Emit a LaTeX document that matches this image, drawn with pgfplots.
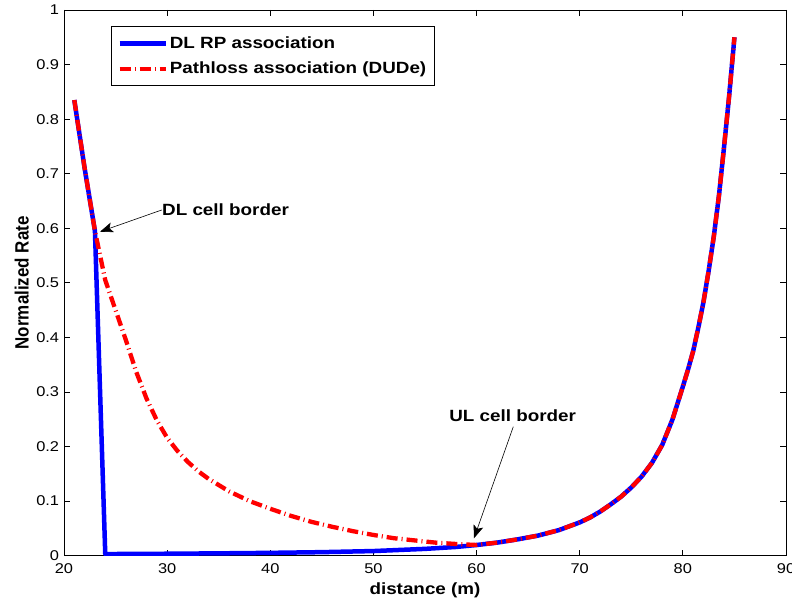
\documentclass[border=0pt]{standalone}
\usepackage{fontspec}
\setmainfont{Liberation Sans}[FakeStretch=1.16]
\usepackage{graphicx}
\usepackage{pgfplots}
\pgfplotsset{compat=1.18}
\usetikzlibrary{arrows.meta}

\pgfplotstableread{
x y
21 0.835
22 0.71
23 0.595
24 0.003
26 0.0032
30 0.0036
35 0.0043
40 0.0052
45 0.0065
50 0.0085
55 0.0125
58 0.016
60 0.0196
62 0.024
64 0.030
66 0.037
68 0.047
70 0.061
71 0.070
72 0.081
73 0.094
74 0.108
75 0.125
76 0.145
77 0.170
78 0.203
79 0.250
80 0.310
80.5 0.341
81 0.375
81.5 0.418
82 0.465
82.5 0.522
83 0.585
83.5 0.660
84 0.750
84.5 0.845
85 0.95
}\dlrp

\pgfplotstableread{
x y
21 0.835
22 0.71
23 0.595
24 0.505
25 0.45
26 0.395
27 0.337
28 0.288
29 0.248
30 0.216
31 0.192
32 0.172
33 0.155
34 0.141
36 0.118
38 0.100
40 0.086
42 0.073
44 0.062
46 0.053
48 0.045
50 0.038
52 0.032
54 0.028
56 0.024
58 0.0215
60 0.0196
62 0.024
64 0.030
66 0.037
68 0.047
70 0.061
71 0.070
72 0.081
73 0.094
74 0.108
75 0.125
76 0.145
77 0.170
78 0.203
79 0.250
80 0.310
80.5 0.341
81 0.375
81.5 0.418
82 0.465
82.5 0.522
83 0.585
83.5 0.660
84 0.750
84.5 0.845
85 0.95
}\pathloss

\begin{document}
\begin{tikzpicture}
\useasboundingbox (0,0) rectangle (792bp,603bp);
\begin{axis}[
  at={(64bp,47.3bp)}, anchor=south west,
  scale only axis,
  width=722bp, height=545.7bp,
  xmin=20, xmax=90, ymin=0, ymax=1,
  xtick={20,30,40,50,60,70,80,90},
  ytick={0,0.1,0.2,0.3,0.4,0.5,0.6,0.7,0.8,0.9,1},
  /pgf/number format/assume math mode=true,
  tick label style={font=\fontsize{14.2}{14.2}\selectfont, inner sep=1bp},
  xticklabel style={yshift=-6.7bp},
  yticklabel style={xshift=-3.7bp},
  axis line style={line width=0.8bp},
  every tick/.style={black, line width=0.8bp},
  major tick length=6bp,
  tick align=inside,
  xlabel={distance (m)},
  ylabel={\scalebox{0.76}[1]{Normalized Rate}},
  xlabel style={font=\bfseries\fontsize{16.3}{16.3}\selectfont, yshift=-5bp},
  ylabel style={font=\bfseries\fontsize{19.3}{19.3}\selectfont, yshift=3bp},
  legend style={at={(rel axis cs:0.065,0.9707)}, anchor=north west,
    draw=black, line width=0.8bp,
    font=\bfseries\fontsize{16.3}{16.3}\selectfont,
    inner xsep=6bp, inner ysep=8.5bp, row sep=8bp,
    cells={anchor=west}},
  legend image code/.code={\draw[#1] (0bp,0bp) -- (46bp,0bp);},
]
\addplot[blue, line width=4.5bp, line join=round] table[x=x,y=y]{\dlrp};
\addlegendentry{DL RP association}
\addplot[red, line width=4.3bp, dash pattern=on 11bp off 4bp on 1bp off 4bp] table[x=x,y=y]{\pathloss};
\addlegendentry{Pathloss association (DUDe)}

\draw[line width=0.6bp, -{Stealth[length=13bp,width=10bp,inset=3bp]}] (axis cs:29.47,0.6335) -- (axis cs:23.49,0.5937);
\node[anchor=west, inner sep=0pt, font=\bfseries\fontsize{16.3}{16.3}\selectfont] at (axis cs:29.5,0.6335) {DL cell border};
\draw[line width=0.6bp, -{Stealth[length=13bp,width=10bp,inset=3bp]}] (axis cs:63.56,0.2364) -- (axis cs:59.75,0.0319);
\node[anchor=center, inner sep=0pt, font=\bfseries\fontsize{16.3}{16.3}\selectfont] at (axis cs:63.5,0.2564) {UL cell border};
\end{axis}
\end{tikzpicture}
\end{document}
